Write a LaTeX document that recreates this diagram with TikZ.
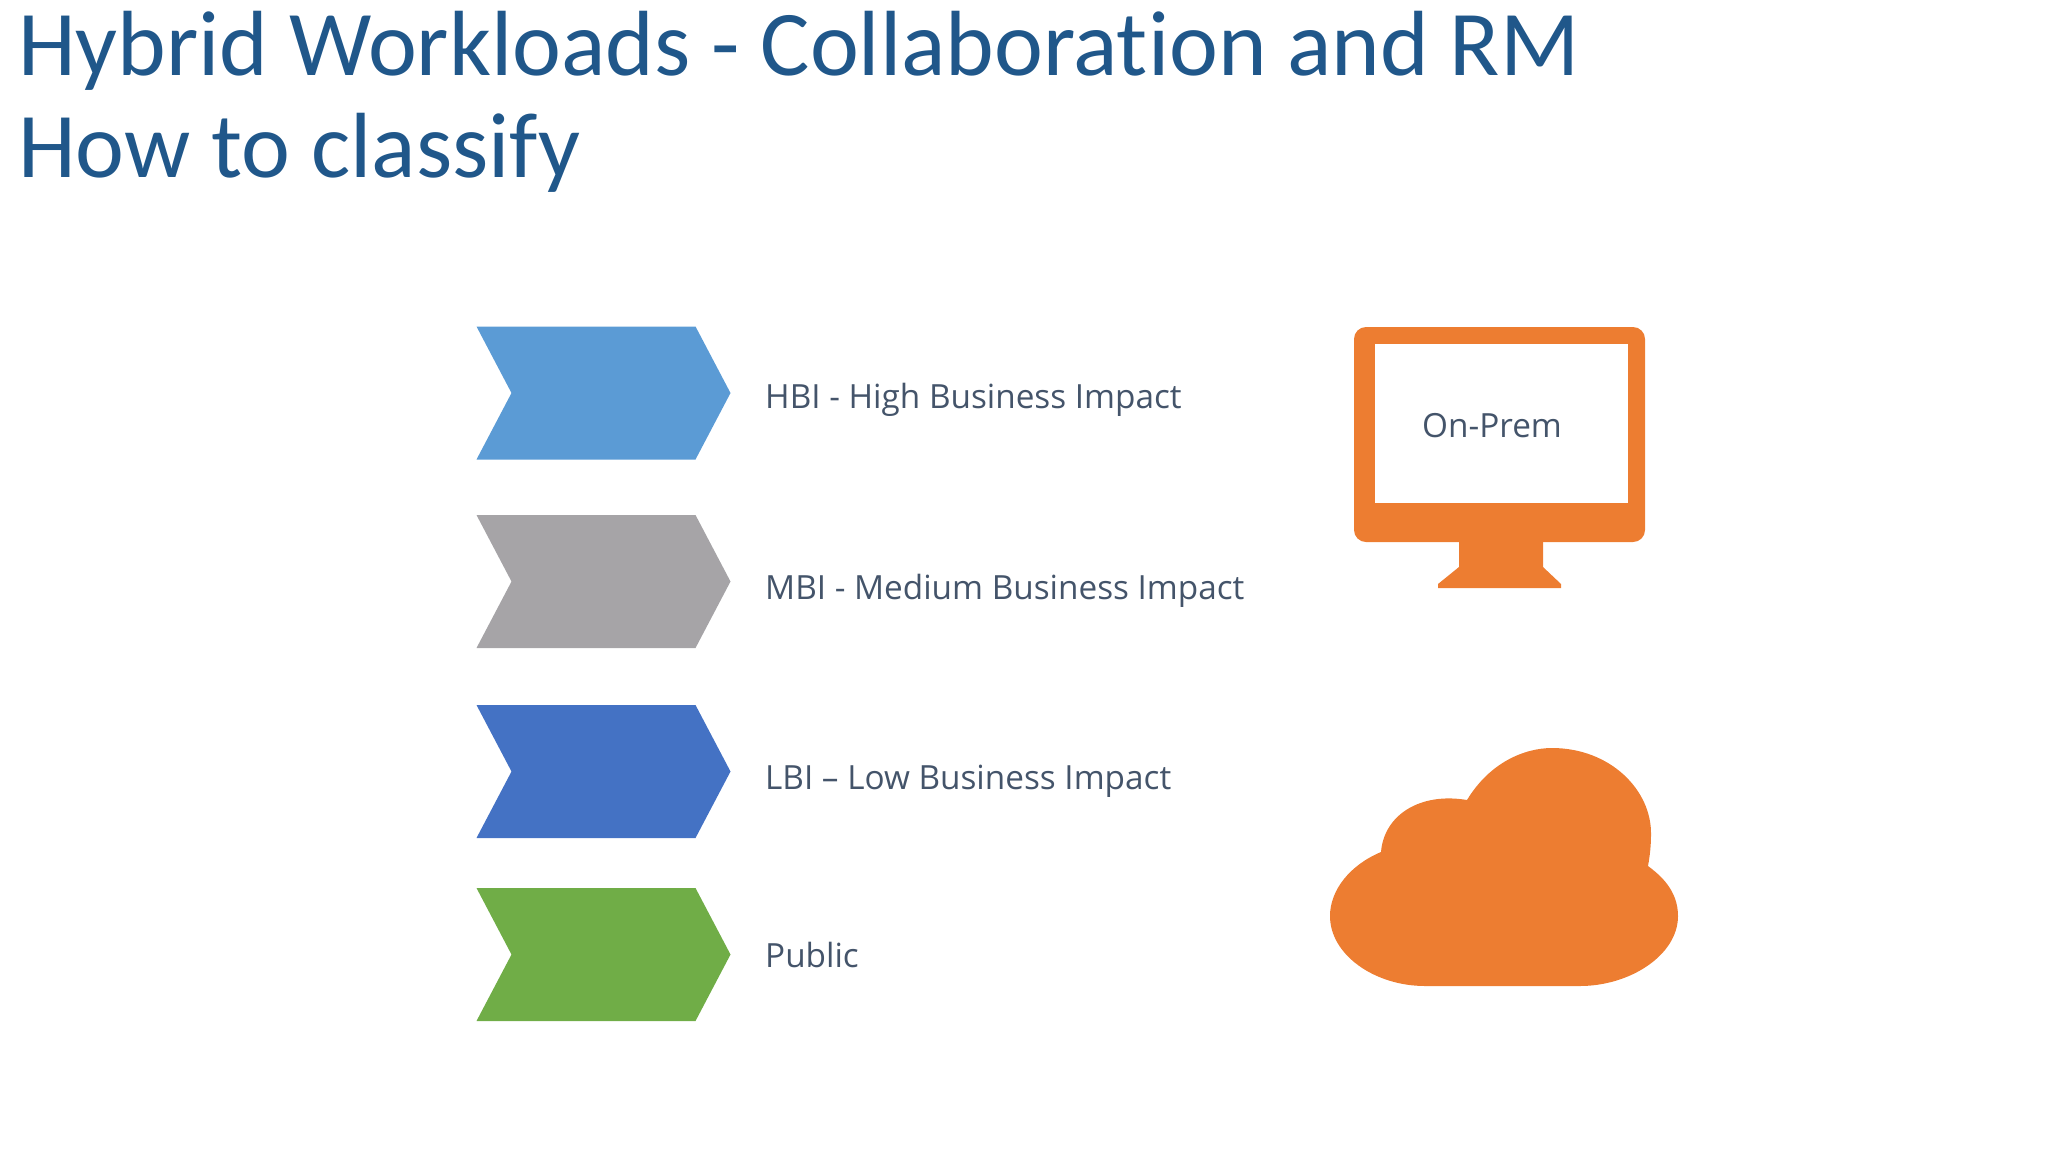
\documentclass[tikz,border=0pt]{standalone}
\usepackage{fontspec}
\setmainfont{Open Sans}
\newfontfamily\titlefont[Ligatures=NoCommon]{Carlito}
\usetikzlibrary{shapes.symbols}
\definecolor{titleblue}{HTML}{20578A}
\definecolor{labelgrey}{HTML}{44546A}
\definecolor{chevblue}{HTML}{5B9BD5}
\definecolor{chevgrey}{HTML}{A6A4A7}
\definecolor{chevroyal}{HTML}{4472C4}
\definecolor{chevgreen}{HTML}{70AD47}
\definecolor{iconorange}{HTML}{ED7D31}

\begin{document}
\begin{tikzpicture}
[x=1pt,y=-1pt
,title/.style={anchor=base west,inner sep=0pt,text=titleblue,font=\titlefont\fontsize{92.6}{92.6}\selectfont}
,chev/.style={signal,signal from=west,signal to=east,signal pointer angle=124.5,inner sep=0pt,minimum width=254pt,minimum height=133pt}
,lbl/.style={anchor=base west,inner sep=0pt,text=labelgrey,font=\fontsize{33.3}{33.3}\selectfont}
,icon/.style={fill=iconorange}]
\useasboundingbox (0,0) rectangle (2048,1152);
\node[title] (t1) at (18,75) {Hybrid Workloads - Collaboration and RM};
\node[title] (t2) at (18,177) {How to classify};
% chevrons
\node[chev,fill=chevblue] (hbi) at (603.5,393) {};
\node[chev,fill=chevgrey] (mbi) at (603.5,581.5) {};
\node[chev,fill=chevroyal] (lbi) at (603.5,771.5) {};
\node[chev,fill=chevgreen] (pub) at (603.5,954.5) {};
\node[lbl] (hbilbl) at (765,408) {HBI - High Business Impact};
\node[lbl] (mbilbl) at (765,599) {MBI - Medium Business Impact};
\node[lbl] (lbilbl) at (765,789) {LBI -- Low Business Impact};
\node[lbl] (publbl) at (765,967) {Public};
% monitor
\fill[icon,rounded corners=12pt] (1354,327) rectangle (1645,542);
\fill[icon] (1459,540) -- (1543,540) -- (1543,567) -- (1561,584) -- (1561,588) -- (1438,588) -- (1438,584) -- (1459,567) -- cycle;
\fill[white] (1375,344) rectangle (1628,503);
\node[lbl] (prem) at (1422,437) {On-Prem};
% cloud
\fill[icon] (1381,852) .. controls (1384,815) and (1420,792) .. (1467,800)
 .. controls (1490,762) and (1525,748) .. (1552,748)
 .. controls (1610,748) and (1652,790) .. (1651,835)
 .. controls (1651,845) and (1650,855) .. (1648,866)
 .. controls (1660,875) and (1678,890) .. (1678,916)
 .. controls (1678,955) and (1630,986) .. (1580,986)
 -- (1425,986)
 .. controls (1375,986) and (1330,955) .. (1330,916)
 .. controls (1330,890) and (1350,865) .. (1381,852) -- cycle;
\end{tikzpicture}
\end{document}
